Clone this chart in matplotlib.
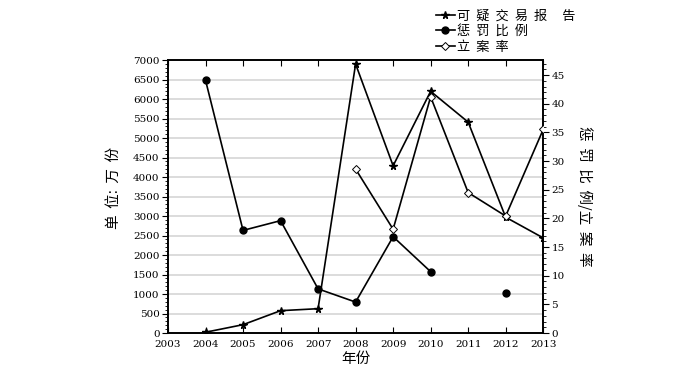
import matplotlib
matplotlib.use("Agg")
import matplotlib.pyplot as plt
import numpy as np
from matplotlib.ticker import MultipleLocator

plt.rcParams['font.family'] = ['DejaVu Serif', 'Noto Sans CJK SC']
plt.rcParams['axes.unicode_minus'] = False

years = [2004, 2005, 2006, 2007, 2008, 2009, 2010, 2011, 2012, 2013]
# 可疑交易报告 (万份, left axis)
reports = [20, 214, 573, 624, 6900, 4290, 6200, 5410, 2970, 2440]
# 惩罚比例 (right axis)
punish = [44.1, 17.9, 19.6, 7.7, 5.4, 16.8, 10.7, np.nan, 7.0, np.nan]
# 立案率 (right axis)
filing = [np.nan, np.nan, np.nan, np.nan, 28.6, 18.1, 41.2, 24.5, 20.4, 35.5]

labels = [u'可  疑  交  易  报     告', u'惩  罚  比  例', u'立  案  率']

fig = plt.figure(figsize=(7, 3.83), dpi=100)
ax = fig.add_axes([0.24, 0.1305, 0.536, 0.7125])
ax2 = ax.twinx()

# 网格
for v in range(500, 7000, 500):
    ax.axhline(v, color='#dcdcdc', lw=1.4, zorder=0)

l1, = ax.plot(years, reports, color='k', lw=1.2, marker='*', ms=5.5, label=labels[0], zorder=3)
l2, = ax2.plot(years, punish, color='k', lw=1.2, marker='o', ms=5, label=labels[1], zorder=3)
l3, = ax2.plot(years, filing, color='k', lw=1.2, marker='D', ms=4.5, mfc='white', mew=0.7,
               label=labels[2], zorder=3)

ax.set_xlim(2003, 2013)
ax.set_ylim(0, 7000)
ax2.set_ylim(0, 47.6)
ax.set_xticks(range(2003, 2014))
ax.yaxis.set_major_locator(MultipleLocator(500))
ax.yaxis.set_minor_locator(MultipleLocator(100))
ax2.yaxis.set_major_locator(MultipleLocator(5))
ax2.yaxis.set_minor_locator(MultipleLocator(1))

ax.tick_params(axis='x', direction='in', top=True, length=4, labelsize=7.5, pad=5)
ax.tick_params(axis='y', which='major', direction='out', length=4, labelsize=7.5, pad=2)
ax.tick_params(axis='y', which='minor', direction='out', length=2)
ax2.tick_params(axis='y', which='major', direction='out', length=4, labelsize=7.5, pad=2)
ax2.tick_params(axis='y', which='minor', direction='out', length=2)
for a in (ax, ax2):
    for s in a.spines.values():
        s.set_linewidth(1.2)

ax.set_xlabel(u'年份', fontsize=10.5, labelpad=2, family=['Noto Sans CJK SC'])
ax.set_ylabel(u'单  位:  万  份', fontsize=10.5, labelpad=9, family=['Noto Sans CJK SC'])
ax.yaxis.set_label_coords(-0.125, 0.53)
ax2.set_ylabel(u'惩  罚  比  例/立  案  率', fontsize=10.5, rotation=270, labelpad=20,
               family=['Noto Sans CJK SC'])

fig.legend(handles=[l1, l2, l3], loc='upper left', bbox_to_anchor=(0.61, 1.0),
           frameon=False, handlelength=1.4, handletextpad=0.2, labelspacing=0.2,
           borderaxespad=0.3, prop={'family': 'Noto Sans CJK SC', 'size': 9.5})

fig.savefig('out.png', dpi=100)
